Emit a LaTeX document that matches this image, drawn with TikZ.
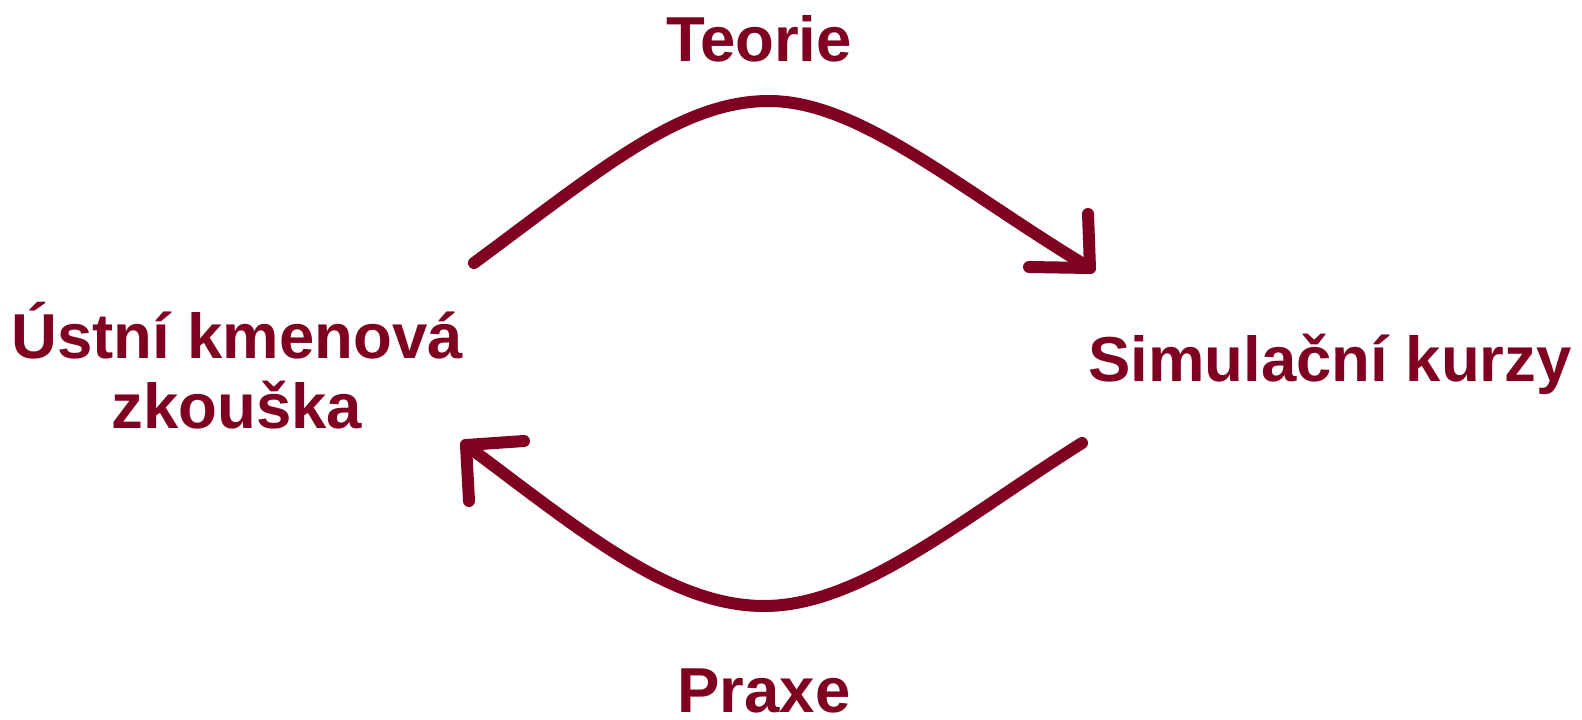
\documentclass[tikz,border=0pt]{standalone}
\usepackage{fontspec}
\setmainfont{Liberation Sans}
\definecolor{wine}{HTML}{7F0021}
\begin{document}
\begin{tikzpicture}[x=1pt,y=-1pt,
  lbl/.style={text=wine,font=\bfseries\fontsize{63.5}{70}\selectfont,inner sep=0pt,align=center},
  arc/.style={draw=wine,line width=12pt,line cap=round,line join=round}]
\useasboundingbox (0,0) rectangle (1582,720);
\node[lbl,anchor=base] (teorie) at (759,61) {Teorie};
\node[lbl,anchor=base] (praxe) at (764,712) {Praxe};
\node[lbl] (ustni) at (237,366) {Ústní kmenová\\zkouška};
\node[lbl,anchor=base] (sim) at (1330,381) {Simulační kurzy};
\coordinate (t0) at (474,263);
\coordinate (tpeak) at (769,101);
\coordinate (t1) at (1090,268);
\coordinate (b0) at (1082,443);
\coordinate (bbot) at (764,606);
\coordinate (b1) at (466,445);
\draw[arc] (t0) .. controls (600,170) and (680,101) .. (tpeak)
  .. controls (860,101) and (960,190) .. (t1);
\draw[arc] (t1) ++(-2,-54) -- (t1) -- ++(-61,-1);
\draw[arc] (b0) .. controls (960,520) and (860,606) .. (bbot)
  .. controls (670,606) and (580,530) .. (b1);
\draw[arc] (b1) ++(58,-4) -- (b1) -- ++(3,56);
\end{tikzpicture}
\end{document}
